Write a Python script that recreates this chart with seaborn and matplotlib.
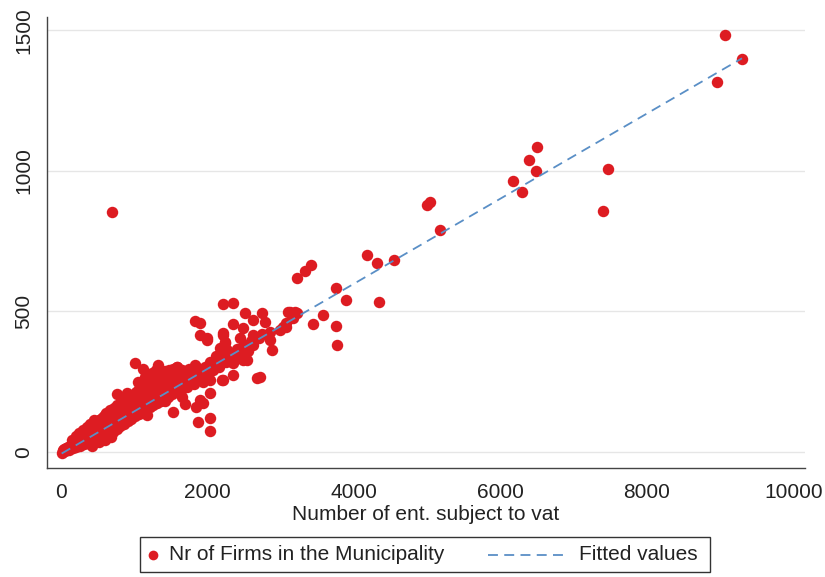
import numpy as np
import pandas as pd
import matplotlib
matplotlib.use("Agg")
import matplotlib.pyplot as plt
from matplotlib.lines import Line2D
from matplotlib.patches import Rectangle
import seaborn as sns

# Municipalities: number of enterprises subject to VAT vs. number of firms
vat_cluster = [
    10, 22, 35, 48, 60, 72, 85, 98, 110, 122, 135, 148, 160, 172, 185, 198, 210, 222, 235, 248,
    260, 272, 285, 298, 310, 322, 335, 348, 360, 372, 385, 398, 410, 422, 435, 448, 460, 472, 485, 498,
    510, 522, 535, 548, 560, 572, 585, 598, 610, 622, 635, 648, 660, 672, 685, 698, 710, 722, 735, 748,
    760, 772, 785, 798, 810, 822, 835, 848, 860, 872, 885, 898, 910, 922, 935, 948, 960, 972, 985, 998,
    1010, 1022, 1035, 1048, 1060, 1072, 1085, 1098, 1110, 1122, 1135, 1148, 1160, 1172, 1185, 1198,
    1210, 1222, 1235, 1248, 1260, 1272, 1285, 1298, 1310, 1322, 1335, 1348, 1360, 1372, 1385, 1398,
    1410, 1422, 1435, 1448, 1460, 1472, 1485, 1498, 1510, 1525, 1540, 1555, 1570, 1585, 1600, 1620,
    1640, 1660, 1680, 1700, 1720, 1745, 1770, 1795, 1820, 1850, 1880, 1910, 1940, 1970, 2000, 2040,
    2080, 2120, 2160, 2200, 2250, 2300, 2350, 2400, 2450, 2500, 2560, 2600, 2700, 2750,
    530, 640, 760, 880, 1000, 1120, 1240, 1360, 1480, 1600, 1720, 1840, 760, 1530, 1898, 1850, 1700,
    150, 200, 250, 300, 350, 400, 450, 520, 600, 680, 430, 560, 900, 1050, 1250,
    1150, 1300, 1450, 1580, 1650, 1420, 1180,
]
firms_cluster = [
    -3, 6, 2, 10, 4, 12, 8, 18, 6, 22, 14, 28, 12, 30, 20, 36, 16, 40, 28, 46,
    22, 52, 35, 58, 28, 62, 44, 70, 30, 74, 52, 80, 34, 86, 60, 94, 38, 98, 68, 104,
    42, 112, 78, 118, 48, 125, 88, 132, 54, 138, 96, 115, 60, 148, 104, 124, 70, 155, 112, 132,
    80, 165, 120, 142, 92, 172, 128, 150, 100, 185, 136, 158, 108, 192, 145, 168, 118, 200, 152, 176,
    126, 212, 160, 185, 134, 225, 168, 195, 140, 238, 175, 205, 150, 248, 182, 215,
    158, 258, 190, 225, 166, 268, 198, 235, 172, 275, 205, 245, 180, 282, 212, 255,
    188, 288, 220, 262, 196, 292, 228, 270, 205, 296, 235, 275, 212, 300, 242, 282,
    220, 290, 250, 268, 230, 295, 258, 276, 240, 300, 265, 285, 250, 300, 275, 320,
    290, 340, 300, 345, 320, 350, 335, 365, 350, 380, 360, 395, 405, 420,
    90, 100, 130, 145, 165, 190, 205, 230, 250, 260, 285, 270, 205, 140, 184, 160, 170,
    42, 55, 66, 76, 88, 100, 112, 34, 42, 52, 20, 95, 210, 250, 280,
    265, 290, 270, 300, 195, 180, 130,
]

vat_spread = [
    9070, 9300, 8960, 7470, 7400, 6175, 6300, 6395, 6495, 6485, 5175, 5000, 5040,
    4550, 4182, 4318, 4337, 3226, 3331, 3408, 3754, 3891, 3572, 3444, 3754, 3773,
    3103, 3195, 3171, 3035, 3080, 2207, 2352, 2512, 2740, 3126, 3217, 2626, 2785,
    2352, 2489, 3080, 2990, 2853, 2626, 2216, 2853, 2626, 2876, 2239, 2262, 1989,
    1898, 2489, 2352, 2171, 2079, 2717, 2205, 2034, 2034, 1943, 1829, 1898, 1989,
    1010, 1124, 1875, 2034, 2034, 1329, 1829, 2216, 2239, 2171, 2444, 2535, 2352,
    2216, 2671, 692,
]
firms_spread = [
    1485, 1400, 1315, 1005, 858, 964, 925, 1038, 1084, 1000, 790, 878, 889,
    683, 700, 671, 534, 620, 645, 665, 582, 540, 487, 455, 448, 380,
    499, 499, 475, 445, 457, 526, 531, 493, 493, 499, 493, 469, 463,
    454, 440, 445, 434, 427, 416, 422, 398, 380, 362, 392, 362, 404,
    457, 327, 315, 327, 309, 265, 255, 255, 208, 172, 467, 416, 398,
    317, 294, 107, 119, 75, 309, 309, 416, 386, 368, 404, 327, 273,
    255, 261, 855,
]

# Linear fit: firms = intercept + slope * vat
fit_intercept = -8.0
fit_slope = 0.1515

x_ticks = [0, 2000, 4000, 6000, 8000, 10000]
y_ticks = [0, 500, 1000, 1500]

df = pd.DataFrame({
    "vat": vat_cluster + vat_spread,
    "firms": firms_cluster + firms_spread,
})
fit_x = np.array([df["vat"].min(), df["vat"].max()])
fit_df = pd.DataFrame({"vat": fit_x, "fitted": fit_intercept + fit_slope * fit_x})

sns.set_theme(style="white")
plt.rcParams["font.family"] = ["Liberation Sans", "DejaVu Sans"]

RED = "#DD1C22"
BLUE = "#5A8FC6"
TXT = "#222222"
AX = "#444444"
FS = 15

fig = plt.figure(figsize=(8.25, 5.77), dpi=100)
ax = fig.add_axes([47 / 825, 109 / 577, 758 / 825, 451 / 577])

for y in y_ticks:
    ax.axhline(y, color="#E6E6E6", lw=1.0, zorder=0)

sns.scatterplot(data=df, x="vat", y="firms", ax=ax, color=RED, s=68,
                linewidth=0, edgecolor=RED, zorder=2, legend=False)
sns.lineplot(data=fit_df, x="vat", y="fitted", ax=ax, color=BLUE, lw=1.3,
             dashes=False, zorder=3, legend=False)
ax.lines[-1].set_dashes((5.5, 3.5))

ax.set_xlim(-190, 10160)
ax.set_ylim(-58, 1548)
ax.set_xticks(x_ticks)
ax.set_yticks(y_ticks)
ax.set_xticklabels([str(t) for t in x_ticks])
ax.set_yticklabels([str(t) for t in y_ticks], rotation=90, va="center")
ax.tick_params(axis="both", which="major", length=6, width=1, color=AX,
               labelsize=FS, labelcolor=TXT, direction="out")
ax.tick_params(axis="x", pad=5)
ax.tick_params(axis="y", pad=4)
ax.set_xlabel("Number of ent. subject to vat", fontsize=FS, color=TXT, labelpad=2)
ax.set_ylabel("")

for side in ["top", "right"]:
    ax.spines[side].set_visible(False)
for side in ["left", "bottom"]:
    ax.spines[side].set_color(AX)
    ax.spines[side].set_linewidth(1.0)

# Legend box below the plot area
W, H = 825.0, 577.0
def fx(px):
    return px / W
def fy(py):
    return 1 - py / H

fig.patches.append(Rectangle((fx(140), fy(572)), fx(710) - fx(140), fy(537) - fy(572),
                             transform=fig.transFigure, fill=False,
                             edgecolor="#333333", lw=1.0))
ly = fy(555)
fig.lines.append(Line2D([fx(153)], [ly], transform=fig.transFigure, marker="o",
                        markersize=7, color=RED, markeredgewidth=0, linestyle="none"))
fig.text(fx(169), ly, "Nr of Firms in the Municipality", fontsize=FS, color=TXT,
         va="center", ha="left")
fig.lines.append(Line2D([fx(488), fx(566)], [ly, ly], transform=fig.transFigure,
                        color=BLUE, lw=1.3, dashes=(5.5, 3.5)))
fig.text(fx(579), ly, "Fitted values", fontsize=FS, color=TXT, va="center", ha="left")

fig.savefig("out.png", dpi=100)
